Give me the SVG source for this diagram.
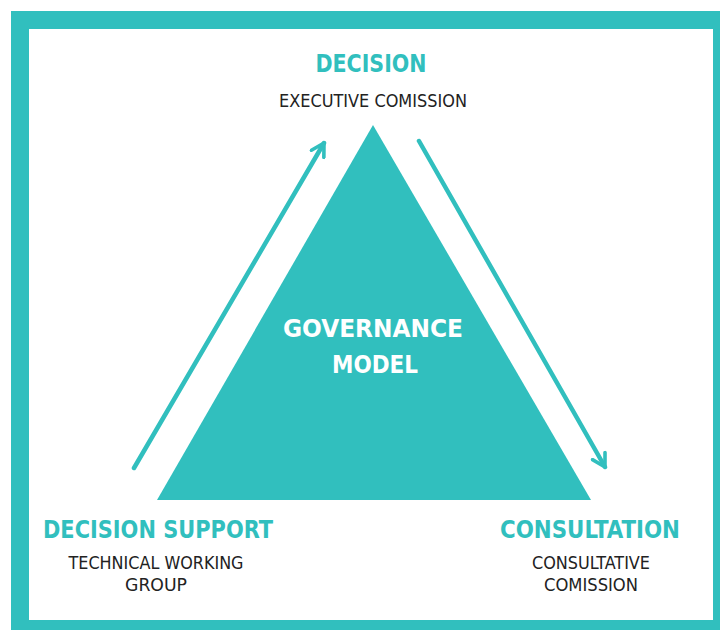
<svg xmlns="http://www.w3.org/2000/svg" width="720" height="630" viewBox="0 0 720 630">
  <defs>
    <style>
      .frame { fill: #ffffff; stroke: #31bfbe; stroke-width: 18; }
      .tri { fill: #31bfbe; }
      .head { font-family: "DejaVu Sans Condensed", "DejaVu Sans", sans-serif; font-stretch: condensed; font-weight: bold; fill: #31bfbe; text-anchor: middle; }
      .sub { font-family: "DejaVu Sans Condensed", "DejaVu Sans", sans-serif; font-stretch: condensed; fill: #222222; text-anchor: middle; }
      .inner { font-family: "DejaVu Sans Condensed", "DejaVu Sans", sans-serif; font-stretch: condensed; font-weight: bold; fill: #ffffff; text-anchor: middle; }
      .conn { fill: none; stroke: #31bfbe; stroke-width: 4.5; stroke-linecap: round; stroke-linejoin: round; }
    </style>
    <marker id="arrow" viewBox="0 0 10 10" refX="8" refY="5" markerWidth="4" markerHeight="4" orient="auto" markerUnits="strokeWidth">
      <path d="M1,1 L8,5 L1,9" fill="none" stroke="#31bfbe" stroke-width="2" stroke-linecap="round" stroke-linejoin="round"/>
    </marker>
  </defs>
  <rect x="0" y="0" width="720" height="630" fill="#ffffff"/>
  <rect class="frame" x="20" y="20" width="702" height="609"/>

  <g id="governance-model">
    <polygon class="tri" points="373,125 157,500 591,500"/>
    <text class="inner" x="373" y="337" font-size="25" textLength="180" lengthAdjust="spacingAndGlyphs">GOVERNANCE</text>
    <text class="inner" x="375" y="373" font-size="25" textLength="86" lengthAdjust="spacingAndGlyphs">MODEL</text>
  </g>

  <g id="decision">
    <text class="head" x="371" y="72" font-size="24" textLength="111" lengthAdjust="spacingAndGlyphs">DECISION</text>
    <text class="sub" x="373" y="107" font-size="17" textLength="188" lengthAdjust="spacingAndGlyphs">EXECUTIVE COMISSION</text>
  </g>

  <g id="decision-support">
    <text class="head" x="158" y="538" font-size="25" textLength="230" lengthAdjust="spacingAndGlyphs">DECISION SUPPORT</text>
    <text class="sub" x="156" y="569" font-size="17" textLength="175" lengthAdjust="spacingAndGlyphs">TECHNICAL WORKING</text>
    <text class="sub" x="156" y="591" font-size="17" textLength="62" lengthAdjust="spacingAndGlyphs">GROUP</text>
  </g>

  <g id="consultation">
    <text class="head" x="590" y="538" font-size="25" textLength="180" lengthAdjust="spacingAndGlyphs">CONSULTATION</text>
    <text class="sub" x="591" y="569" font-size="17" textLength="118" lengthAdjust="spacingAndGlyphs">CONSULTATIVE</text>
    <text class="sub" x="591" y="591" font-size="17" textLength="94" lengthAdjust="spacingAndGlyphs">COMISSION</text>
  </g>

  <g id="connectors">
    <line class="conn" x1="134" y1="468" x2="324" y2="143" marker-end="url(#arrow)"/>
    <line class="conn" x1="419" y1="141" x2="605" y2="467" marker-end="url(#arrow)"/>
  </g>
</svg>
